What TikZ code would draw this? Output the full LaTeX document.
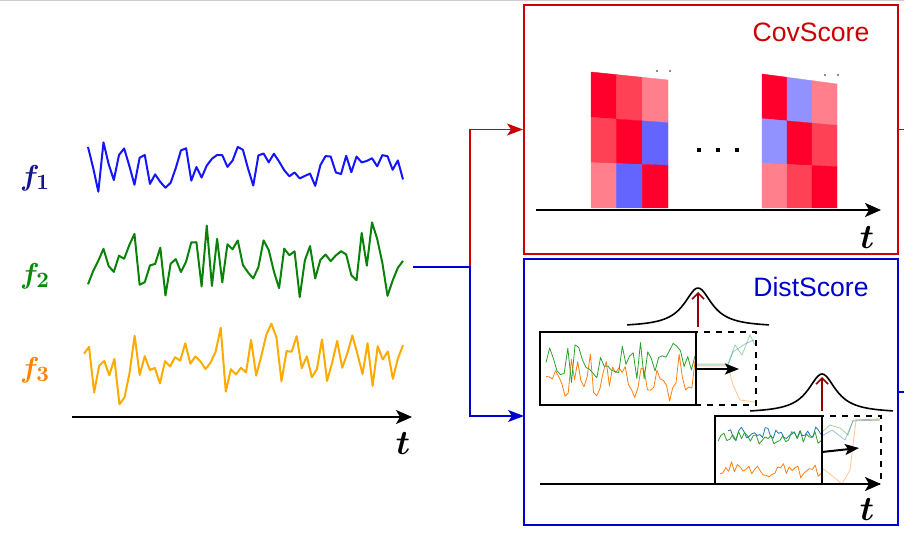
\documentclass[tikz,border=0pt]{standalone}
\usepackage{fontspec}
\setsansfont{Liberation Sans}
\usetikzlibrary{arrows.meta,positioning}

\definecolor{covred}{RGB}{204,0,0}
\definecolor{distblue}{RGB}{0,0,204}
\definecolor{sigblue}{RGB}{20,20,255}
\definecolor{siggreen}{RGB}{10,130,10}
\definecolor{sigorange}{RGB}{255,170,0}
\definecolor{lblblue}{RGB}{20,20,140}
\definecolor{lblgreen}{RGB}{0,140,0}
\definecolor{lblorange}{RGB}{255,130,0}
\definecolor{hred}{RGB}{255,0,45}
\definecolor{hmid}{RGB}{255,65,85}
\definecolor{hpink}{RGB}{255,128,140}
\definecolor{hblue}{RGB}{100,100,255}
\definecolor{hlav}{RGB}{145,145,255}
\definecolor{mplorange}{RGB}{255,127,14}
\definecolor{mplgreen}{RGB}{44,160,44}
\definecolor{mplblue}{RGB}{31,119,180}
\definecolor{peakred}{RGB}{150,0,0}

\newcommand{\heatmap}[5]{%
  \foreach \c [count=\k from 0] in {#5} {
    \pgfmathtruncatemacro\ci{mod(\k,3)}
    \pgfmathtruncatemacro\rj{div(\k,3)}
    \pgfmathsetmacro\xa{#1+\ci*(#2-#1)/3}
    \pgfmathsetmacro\xb{#1+(\ci+1)*(#2-#1)/3}
    \pgfmathsetmacro\ta{#3+(#4-#3)*\ci/3}
    \pgfmathsetmacro\tb{#3+(#4-#3)*(\ci+1)/3}
    \filldraw[\c, line width=0.2pt] (\xa,{\ta+\rj*(208-\ta)/3}) -- (\xb,{\tb+\rj*(208-\tb)/3})
      -- (\xb,{\tb+(\rj+1)*(208-\tb)/3}) -- (\xa,{\ta+(\rj+1)*(208-\ta)/3}) -- cycle;
  }}

\begin{document}
\begin{tikzpicture}[
  x=0.5pt, y=-0.5pt,
  scorebox/.style={draw,line width=1pt,minimum width=187pt,inner sep=0pt},
  title/.style={font=\fontsize{13.3}{16}\sffamily\selectfont},
  flbl/.style={font=\fontsize{15}{18}\selectfont\boldmath},
  tlbl/.style={font=\fontsize{16}{18}\selectfont\boldmath},
  axis/.style={line width=1pt,-{Stealth[length=8pt,width=7pt,inset=2pt]}},
  feed/.style={line width=0.75pt,-{Stealth[length=8pt,width=6pt,inset=2pt]}},
  sig/.style={line width=1pt,line join=round},
  thin sig/.style={line width=0.4pt,line join=round},
  faded/.style={line width=0.4pt,opacity=0.45},
  win/.style={draw,line width=1pt},
  shift arr/.style={line width=1pt,-{Stealth[length=7pt,width=5.5pt,inset=1.5pt]}},
  peak/.style={line width=0.8pt},
  peak arr/.style={peakred,line width=0.8pt,-{Straight Barb[length=3pt,width=6pt]}}
]
\useasboundingbox (0,0) rectangle (904,544);
\draw[black!20,line width=1pt] (0,0.5) -- (904,0.5);
\pgfmathsetseed{23}

% input series
\node[flbl,text=lblblue] (f1) at (35,178) {$f_1$};
\node[flbl,text=lblgreen] (f2) at (35,276) {$f_2$};
\node[flbl,text=lblorange] (f3) at (35,370) {$f_3$};
\draw[sig,sigblue] plot[domain=88:403,samples=62] (\x,{168+20*rand+18*rand^3});
\draw[sig,siggreen] plot[domain=88:403,samples=62] (\x,{262+26*rand+18*rand^3});
\draw[sig,sigorange] plot[domain=84:403,samples=64] (\x,{360+28*rand+22*rand^3});
\coordinate (in0) at (72,417);
\coordinate (in1) at (412,417);
\draw[axis] (in0) -- (in1);
\node[tlbl] (tin) at (403,444) {$t$};

% score boxes
\node[scorebox,covred,minimum height=124.5pt] (cov) at (711,129.5) {};
\node[scorebox,distblue,minimum height=133pt] (dist) at (711,392) {};
\node[title,text=covred] (covtitle) at (811,32) {CovScore};
\node[title,text=distblue] (disttitle) at (811,287) {DistScore};

\coordinate (sigout) at (413,267);
\coordinate (split) at (470,267);
\coordinate (distin) at (524,416);
\draw[feed,covred] (sigout) -- (split) |- (cov.west);
\draw[feed,distblue] (sigout) -- (split) |- (distin);
\draw[covred,line width=0.75pt] (cov.east) -- ++(8,0);
\draw[distblue,line width=0.75pt] (dist.east) -- ++(8,0);

% CovScore
\heatmap{591}{668}{72}{80}{hred,hmid,hpink,hmid,hred,hblue,hpink,hblue,hred}
\heatmap{762}{837}{74}{84}{hred,hlav,hpink,hlav,hred,hmid,hpink,hmid,hred}
\foreach \d in {657,670,825,838} \fill[black!60] (\d,{\d<700 ? 71 : 75}) circle (0.6pt);
\foreach \d in {699,718,737} \fill (\d-2,148) rectangle (\d+2,152);
\coordinate (c0) at (536,210);
\coordinate (c1) at (881,210);
\draw[axis] (c0) -- (c1);
\node[tlbl] (tcov) at (867,238) {$t$};

% DistScore
\coordinate (d0) at (540,484);
\coordinate (d1) at (881,484);
\draw[axis] (d0) -- (d1);
\node[tlbl] (tdist) at (867,510) {$t$};

\draw[thin sig,mplorange] plot[domain=546:695,samples=48] (\x,{375+18*rand+10*rand^3});
\draw[thin sig,mplgreen] plot[domain=546:695,samples=42] (\x,{360+18*rand+10*rand^3});
\draw[faded,mplblue] (697,365) -- (728,365) -- (733,352) -- (745,344) -- (754,340);
\draw[faded,mplgreen] (697,364) -- (728,364) -- (735,345) -- (742,355) -- (750,335) -- (755,345);
\draw[faded,mplorange] (697,366) -- (728,366) -- (733,385) -- (740,400) -- (755,402);
\draw[win] (540,332) rectangle (696,405);
\draw[win,dashed] (696,332) rectangle (756,405);
\coordinate (w1a) at (697,369);
\coordinate (w1b) at (739,369);
\draw[shift arr] (w1a) -- (w1b);
\draw[peak] plot[domain=627:769,samples=90] (\x,{327-39/(1+((\x-698)/17)^2)});
\coordinate (p1a) at (698,327);
\coordinate (p1b) at (698,292);
\draw[peak arr] (p1a) -- (p1b);

\draw[thin sig,mplorange] plot[domain=720:821,samples=36] (\x,{470+6*rand+4*rand^3});
\draw[thin sig,mplblue] plot[domain=728:821,samples=36] (\x,{434+7*rand});
\draw[thin sig,mplgreen] plot[domain=718:821,samples=36] (\x,{437+7*rand});
\draw[faded,mplgreen] (822,432) -- (830,425) -- (840,428) -- (848,435) -- (853,420) -- (880,419);
\draw[faded,mplblue] (822,436) -- (832,430) -- (845,440) -- (853,421) -- (880,420);
\draw[faded,mplorange] (822,468) -- (835,478) -- (842,484) -- (850,470) -- (856,420) -- (880,420);
\draw[win] (715,416) rectangle (822,484);
\draw[win,dashed] (822,416) rectangle (881,484);
\coordinate (w2a) at (822,452);
\coordinate (w2b) at (859,448);
\draw[shift arr] (w2a) -- (w2b);
\draw[peak] plot[domain=750:893,samples=90] (\x,{413-39/(1+((\x-822)/17)^2)});
\coordinate (p2a) at (822,411);
\coordinate (p2b) at (822,377);
\draw[peak arr] (p2a) -- (p2b);
\end{tikzpicture}
\end{document}
